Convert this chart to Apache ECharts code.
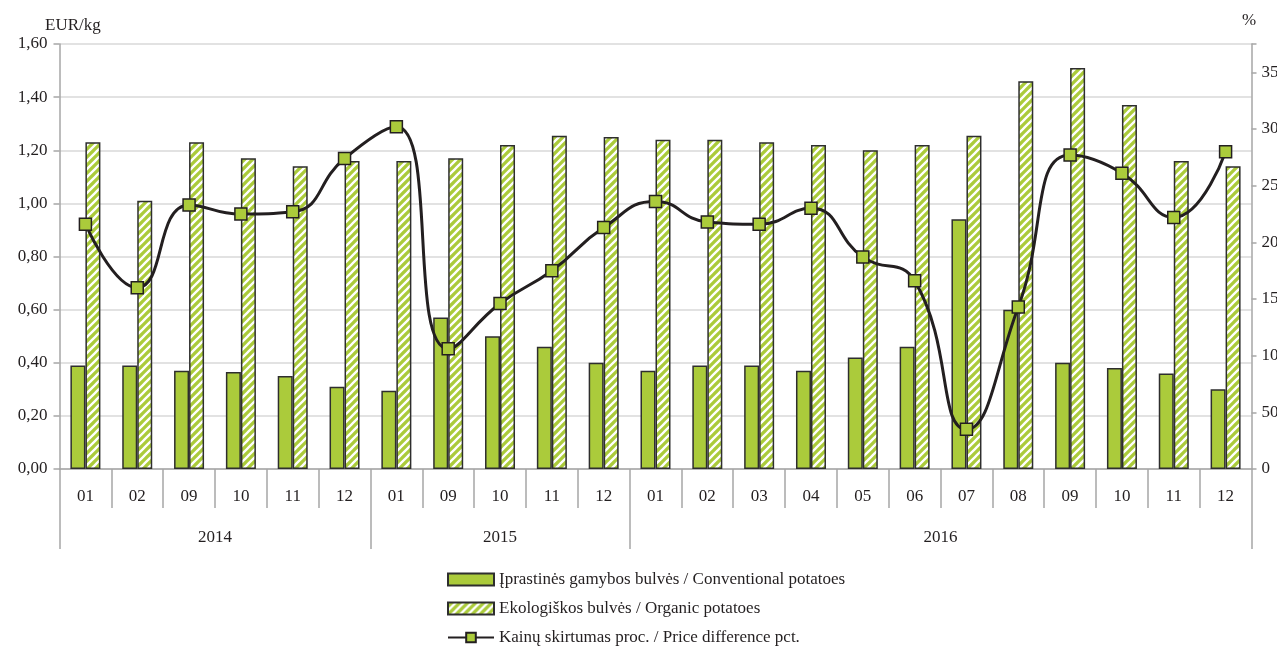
<!DOCTYPE html>
<html>
<head>
<meta charset="utf-8">
<script src="https://cdn.jsdelivr.net/npm/echarts@6/dist/echarts.min.js"></script>
<style>
html,body{margin:0;padding:0;background:#fff;}
#chart{width:1277px;height:646px;}
</style>
</head>
<body>
<div id="chart"></div>
<script>
const months = ['01','02','09','10','11','12','01','09','10','11','12','01','02','03','04','05','06','07','08','09','10','11','12'];
const years = ['2014','2015','2016'];
const monthsPerYear = [6, 5, 12];
const conventional = [0.39,0.39,0.37,0.365,0.35,0.31,0.295,0.57,0.50,0.46,0.40,0.37,0.39,0.39,0.37,0.42,0.46,0.94,0.60,0.40,0.38,0.36,0.30];
const organic = [1.23,1.01,1.23,1.17,1.14,1.16,1.16,1.17,1.22,1.255,1.25,1.24,1.24,1.23,1.22,1.20,1.22,1.255,1.46,1.51,1.37,1.16,1.14];
const priceDiff = [216,160,233,225,227,274,302,106,146,175,213,236,218,216,230,187,166,35,143,277,261,222,280];
const seriesNames = ['Įprastinės gamybos bulvės / Conventional potatoes','Ekologiškos bulvės / Organic potatoes','Kainų skirtumas proc. / Price difference pct.'];
const leftUnit = 'EUR/kg';
const rightUnit = '%';

// year group boundaries and centers (in category units)
const yearStarts = [];
const yearCenters = {};
let acc = 0;
monthsPerYear.forEach((n, i) => { yearStarts.push(acc); yearCenters[(acc + n / 2).toFixed(1)] = years[i]; acc += n; });

const GREEN = '#ABCB3B';
const DARK = '#231F20';
const BORDER = '#2E2E2E';
const AXIS = '#A6A6A6';
const GRID = '#D9D9D9';
const FONT = 'Liberation Serif';

// diagonal "/" stripe tile for organic bars
function stripeTile() {
  const s = 8;
  const c = document.createElement('canvas');
  c.width = s; c.height = s;
  const g = c.getContext('2d');
  g.fillStyle = GREEN;
  g.fillRect(0, 0, s, s);
  g.strokeStyle = '#ffffff';
  g.lineWidth = 2.3;
  g.lineCap = 'square';
  [0, s, 2 * s].forEach((k) => {
    g.beginPath();
    g.moveTo(k - s - 1, s + 1);
    g.lineTo(k + 1, -1);
    g.stroke();
  });
  return c;
}
const stripeFill = { image: stripeTile(), repeat: 'repeat' };

const chart = echarts.init(document.getElementById('chart'));
chart.setOption({
  animation: false,
  textStyle: { fontFamily: FONT },
  title: [
    { text: leftUnit, left: 40, top: 12, textStyle: { fontFamily: FONT, fontSize: 17, fontWeight: 'normal', color: DARK } },
    { text: rightUnit, left: 1237, top: 7, textStyle: { fontFamily: FONT, fontSize: 17, fontWeight: 'normal', color: DARK } }
  ],
  legend: {
    orient: 'vertical',
    left: 447,
    top: 571,
    height: 120,
    padding: 0,
    itemWidth: 46,
    itemHeight: 12,
    itemGap: 12,
    textStyle: { fontFamily: FONT, fontSize: 17, color: DARK },
    data: [
      { name: seriesNames[0], icon: 'rect' },
      { name: seriesNames[1], icon: 'rect' },
      { name: seriesNames[2] }
    ]
  },
  grid: { left: 59.5, right: 25.5, top: 44, bottom: 177, containLabel: false, outerBoundsMode: 'none' },
  xAxis: [
    {
      type: 'category', data: months, position: 'bottom', boundaryGap: true,
      axisLine: { show: true, lineStyle: { color: AXIS, width: 1.5 } },
      axisTick: { show: true, interval: 0, length: 39, lineStyle: { color: AXIS, width: 1.5 } },
      axisLabel: { interval: 0, margin: 19, fontFamily: FONT, fontSize: 17, color: DARK },
      splitLine: { show: false }
    },
    {
      type: 'category', data: months, position: 'bottom', boundaryGap: true,
      axisLine: { show: false },
      axisTick: { show: true, interval: (idx) => yearStarts.indexOf(idx) >= 0, length: 80, lineStyle: { color: AXIS, width: 1.5 } },
      axisLabel: { show: false },
      splitLine: { show: false }
    },
    {
      type: 'value', min: 0, max: months.length, interval: 0.5, position: 'bottom',
      axisLine: { show: false }, axisTick: { show: false }, splitLine: { show: false },
      axisLabel: { margin: 60, fontFamily: FONT, fontSize: 17, color: DARK, showMinLabel: true, showMaxLabel: true,
        formatter: (v) => yearCenters[v.toFixed(1)] || '' }
    }
  ],
  yAxis: [
    {
      type: 'value', min: 0, max: 1.6, interval: 0.2,
      axisLine: { show: true, lineStyle: { color: AXIS, width: 1.5 } },
      axisTick: { show: true, length: 6, lineStyle: { color: AXIS, width: 1.5 } },
      axisLabel: { margin: 12, fontFamily: FONT, fontSize: 17, color: DARK, formatter: (v) => v.toFixed(2).replace('.', ',') },
      splitLine: { show: true, lineStyle: { color: GRID, width: 1.5 } }
    },
    {
      type: 'value', min: 0, max: 375, interval: 50, position: 'right',
      axisLine: { show: true, lineStyle: { color: AXIS, width: 1.5 } },
      axisTick: { show: true, length: 5, lineStyle: { color: AXIS, width: 1.5 } },
      axisLabel: { margin: 10, fontFamily: FONT, fontSize: 17, color: DARK, formatter: (v) => (v % 50 === 0 ? String(v) : '') },
      splitLine: { show: false }
    }
  ],
  series: [
    {
      name: seriesNames[0], type: 'bar', xAxisIndex: 0, yAxisIndex: 0, data: conventional,
      barWidth: 15, barGap: '0%',
      itemStyle: { color: GREEN, borderColor: BORDER, borderWidth: 1.5 }
    },
    {
      name: seriesNames[1], type: 'bar', xAxisIndex: 0, yAxisIndex: 0, data: organic,
      barWidth: 15, barGap: '0%',
      itemStyle: { color: stripeFill, borderColor: BORDER, borderWidth: 1.5 }
    },
    {
      name: seriesNames[2], type: 'line', xAxisIndex: 0, yAxisIndex: 1, data: priceDiff,
      smooth: 0.5, symbol: 'rect', symbolSize: 12, z: 5,
      lineStyle: { color: DARK, width: 3 },
      itemStyle: { color: GREEN, borderColor: DARK, borderWidth: 1.5 }
    }
  ]
});
</script>
</body>
</html>
